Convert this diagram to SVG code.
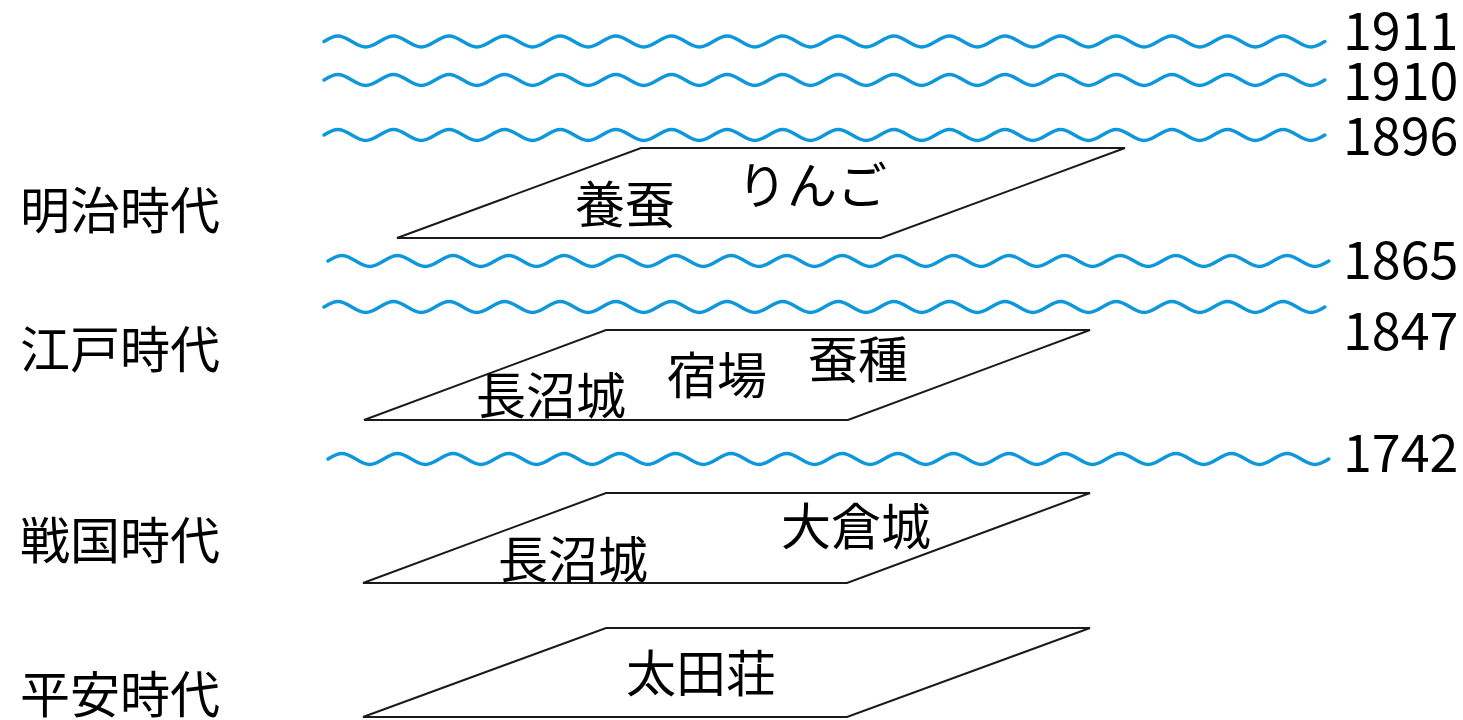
<svg xmlns="http://www.w3.org/2000/svg" xmlns:xlink="http://www.w3.org/1999/xlink" width="1463" height="720" viewBox="0 0 1463 720">
<style>
.t{font-family:"Noto Sans CJK JP","Noto Sans",sans-serif;font-size:50px;fill:#000}
.y{font-size:52px}
.p{fill:#fff;stroke:#1a1a1a;stroke-width:2}
.w{fill:none;stroke:#0f97db;stroke-width:3.4;stroke-linecap:round}
</style>
<defs>
<path id="wave" class="w" d="M0,0 c11.8,-7.3 16,-7.3 27.8,0 s16,7.3 27.8,0 s16,-7.3 27.8,0 s16,7.3 27.8,0 s16,-7.3 27.8,0 s16,7.3 27.8,0 s16,-7.3 27.8,0 s16,7.3 27.8,0 s16,-7.3 27.8,0 s16,7.3 27.8,0 s16,-7.3 27.8,0 s16,7.3 27.8,0 s16,-7.3 27.8,0 s16,7.3 27.8,0 s16,-7.3 27.8,0 s16,7.3 27.8,0 s16,-7.3 27.8,0 s16,7.3 27.8,0 s16,-7.3 27.8,0 s16,7.3 27.8,0 s16,-7.3 27.8,0 s16,7.3 27.8,0 s16,-7.3 27.8,0 s16,7.3 27.8,0 s16,-7.3 27.8,0 s16,7.3 27.8,0 s16,-7.3 27.8,0 s16,7.3 27.8,0 s16,-7.3 27.8,0 s16,7.3 27.8,0 s16,-7.3 27.8,0 s16,7.3 27.8,0 s16,-7.3 27.8,0 s16,7.3 27.8,0 s16,-7.3 27.8,0 s16,7.3 27.8,0"/>
</defs>
<rect width="1463" height="720" fill="#fff"/>
<g id="boundaries">
<use xlink:href="#wave" x="324" y="41.5"/>
<use xlink:href="#wave" x="324" y="80"/>
<use xlink:href="#wave" x="324" y="135"/>
<use xlink:href="#wave" x="328" y="261"/>
<use xlink:href="#wave" x="324" y="307"/>
<use xlink:href="#wave" x="328" y="459"/>
</g>
<g id="years">
<text class="t y" x="1343" y="50">1911</text>
<text class="t y" x="1343" y="100">1910</text>
<text class="t y" x="1343" y="155">1896</text>
<text class="t y" x="1343" y="279">1865</text>
<text class="t y" x="1343" y="350">1847</text>
<text class="t y" x="1343" y="472">1742</text>
</g>
<g id="periods">
<text class="t" x="20" y="229">明治時代</text>
<text class="t" x="20" y="368">江戸時代</text>
<text class="t" x="20" y="559">戦国時代</text>
<text class="t" x="20" y="713">平安時代</text>
</g>
<g id="meiji">
<polygon class="p" points="641,148 1125,148 881,238 397,238"/>
<text class="t" x="575" y="223">養蚕</text>
<text class="t" x="737" y="204">りんご</text>
</g>
<g id="edo">
<polygon class="p" points="606,330 1090,330 848,420 364,420"/>
<text class="t" x="476" y="414">長沼城</text>
<text class="t" x="667" y="394">宿場</text>
<text class="t" x="808" y="378">蚕種</text>
</g>
<g id="sengoku">
<polygon class="p" points="606,493 1090,493 847,583 363,583"/>
<text class="t" x="498" y="578">長沼城</text>
<text class="t" x="781" y="545">大倉城</text>
</g>
<g id="heian">
<polygon class="p" points="606,628 1090,628 847,717 363,717"/>
<text class="t" x="626" y="692">太田荘</text>
</g>
</svg>
